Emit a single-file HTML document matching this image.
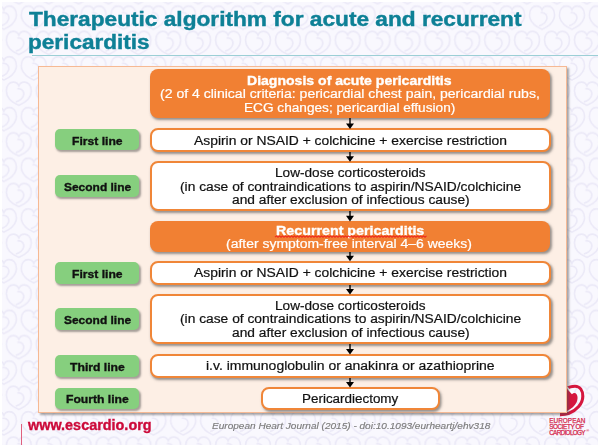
<!DOCTYPE html>
<html><head><meta charset="utf-8"><style>
html,body{margin:0;padding:0;}
body{width:600px;height:447px;overflow:hidden;position:relative;background:#fff;font-family:"Liberation Sans",sans-serif;}
.t{position:absolute;white-space:pre;transform-origin:0 0;}
.ob{position:absolute;background:#f18033;box-shadow:1.5px 2px 2.5px rgba(50,50,50,0.5);}
.wb{position:absolute;box-sizing:border-box;background:#fff;border:2px solid #f08638;box-shadow:1.5px 2px 2.5px rgba(50,50,50,0.5);}
.gb{position:absolute;background:#86cf7e;box-shadow:1.5px 2px 2px rgba(60,60,60,0.45);}
.ar{position:absolute;overflow:visible;}
#panel{position:absolute;left:38px;top:66px;width:529px;height:347px;box-sizing:border-box;background:#fdefe5;border:1px solid #f6b994;box-shadow:1.5px 1.5px 2px rgba(80,80,80,0.5);}
#uline{position:absolute;left:32px;top:55px;width:566px;height:1px;background:#9ccfd6;}
#vline{position:absolute;left:21px;top:424px;width:1px;height:21px;background:#e0607e;}
#esc{position:absolute;left:586.3px;top:428.6px;font-size:4px;line-height:4px;color:#d5284c;font-weight:bold;}
</style></head><body>
<svg width="600" height="447" style="position:absolute;left:0;top:0">
<defs><pattern id="hp" x="3.85" y="69.05" width="29.9" height="50.7" patternUnits="userSpaceOnUse">
<g fill="none" stroke="#ebe9f7" stroke-width="1.6" transform="translate(0 0)"><path transform="translate(14.95 25.35)" d="M0 11 C-8 7.5 -12.5 2.5 -12.5 -3.5 C-12.5 -9.5 -9 -12.3 -5.5 -12.3 C-3 -12.3 -1 -11 0 -8.5 C1 -11 3 -12.3 5.5 -12.3 C9 -12.3 12.5 -9.5 12.5 -3.5 C12.5 2.5 8 7.5 0 11 Z M-1.5 -5.5 C3 -6.5 6 -2.5 4.5 1.5 C3.5 4.5 0.5 6.5 -3 7.5"/><path transform="translate(0 0)" d="M0 11 C-8 7.5 -12.5 2.5 -12.5 -3.5 C-12.5 -9.5 -9 -12.3 -5.5 -12.3 C-3 -12.3 -1 -11 0 -8.5 C1 -11 3 -12.3 5.5 -12.3 C9 -12.3 12.5 -9.5 12.5 -3.5 C12.5 2.5 8 7.5 0 11 Z M-1.5 -5.5 C3 -6.5 6 -2.5 4.5 1.5 C3.5 4.5 0.5 6.5 -3 7.5"/><path transform="translate(29.9 0)" d="M0 11 C-8 7.5 -12.5 2.5 -12.5 -3.5 C-12.5 -9.5 -9 -12.3 -5.5 -12.3 C-3 -12.3 -1 -11 0 -8.5 C1 -11 3 -12.3 5.5 -12.3 C9 -12.3 12.5 -9.5 12.5 -3.5 C12.5 2.5 8 7.5 0 11 Z M-1.5 -5.5 C3 -6.5 6 -2.5 4.5 1.5 C3.5 4.5 0.5 6.5 -3 7.5"/><path transform="translate(0 50.7)" d="M0 11 C-8 7.5 -12.5 2.5 -12.5 -3.5 C-12.5 -9.5 -9 -12.3 -5.5 -12.3 C-3 -12.3 -1 -11 0 -8.5 C1 -11 3 -12.3 5.5 -12.3 C9 -12.3 12.5 -9.5 12.5 -3.5 C12.5 2.5 8 7.5 0 11 Z M-1.5 -5.5 C3 -6.5 6 -2.5 4.5 1.5 C3.5 4.5 0.5 6.5 -3 7.5"/><path transform="translate(29.9 50.7)" d="M0 11 C-8 7.5 -12.5 2.5 -12.5 -3.5 C-12.5 -9.5 -9 -12.3 -5.5 -12.3 C-3 -12.3 -1 -11 0 -8.5 C1 -11 3 -12.3 5.5 -12.3 C9 -12.3 12.5 -9.5 12.5 -3.5 C12.5 2.5 8 7.5 0 11 Z M-1.5 -5.5 C3 -6.5 6 -2.5 4.5 1.5 C3.5 4.5 0.5 6.5 -3 7.5"/></g>
</pattern><filter id="bl" x="0" y="0" width="1" height="1"><feGaussianBlur stdDeviation="0.6"/></filter></defs>
<rect x="2" y="2" width="596" height="443" fill="#f9f8fe"/>
<rect x="2" y="2" width="596" height="443" fill="url(#hp)" filter="url(#bl)"/>
</svg>
<div id="uline"></div>
<svg width="600" height="447" style="position:absolute;left:0;top:0">
<path d="M566.8 388.6 C569.5 386.4 572.2 386.2 575 386.2 C580 386.2 582.8 390.5 582.8 396.3 C582.8 404 576.5 410.3 569 413.3 C566.5 414.2 563.5 414.6 560 414.6" fill="none" stroke="#d5163e" stroke-width="3.1"/>
<path d="M566.5 386.8 L573 393.8" stroke="#fff" stroke-width="1.4"/>
<path d="M566 389.2 L567.4 389.2 L571.9 394.2 C573.5 392.7 575.4 392.6 576.6 394.2 C578 396.2 577.8 399.6 576.6 402.3 C575 405.8 571.5 408.8 566.6 411.3 L566 411.3 Z" fill="#d5163e"/>
</svg>
<div id="panel"></div>
<div class="ob" style="left:150px;top:69px;width:400.30px;height:49.00px;border-radius:8px"></div><div class="wb" style="left:150px;top:128px;width:401.00px;height:24.00px;border-radius:8px"></div><div class="wb" style="left:150px;top:161px;width:401.00px;height:50.00px;border-radius:8px"></div><div class="ob" style="left:150px;top:221px;width:400.30px;height:31.40px;border-radius:8px"></div><div class="wb" style="left:150px;top:261px;width:401.00px;height:24.00px;border-radius:8px"></div><div class="wb" style="left:150px;top:294px;width:401.00px;height:50.00px;border-radius:8px"></div><div class="wb" style="left:150px;top:354px;width:401.00px;height:24.00px;border-radius:8px"></div><div class="wb" style="left:261px;top:387px;width:179.00px;height:23.00px;border-radius:8px"></div>
<div class="gb" style="left:55px;top:129px;width:84.40px;height:21.40px;border-radius:5px"></div><div class="gb" style="left:55px;top:175px;width:84.40px;height:22.30px;border-radius:5px"></div><div class="gb" style="left:55px;top:262px;width:84.40px;height:21.70px;border-radius:5px"></div><div class="gb" style="left:55px;top:308px;width:84.40px;height:22.00px;border-radius:5px"></div><div class="gb" style="left:55px;top:355px;width:84.40px;height:22.00px;border-radius:5px"></div><div class="gb" style="left:55px;top:387.6px;width:84.40px;height:21.70px;border-radius:5px"></div>
<svg class="ar" style="left:345.4px;top:118px" width="10" height="11.80" viewBox="0 0 10 11.80"><line x1="5" y1="0" x2="5" y2="6.80" stroke="#000" stroke-width="1.4"/><path d="M1 5.40 L9 5.40 L5 11.00 Z" fill="#000"/></svg><svg class="ar" style="left:345.4px;top:152px" width="10" height="10.60" viewBox="0 0 10 10.60"><line x1="5" y1="0" x2="5" y2="5.60" stroke="#000" stroke-width="1.4"/><path d="M1 4.20 L9 4.20 L5 9.80 Z" fill="#000"/></svg><svg class="ar" style="left:345.4px;top:211px" width="10" height="11.20" viewBox="0 0 10 11.20"><line x1="5" y1="0" x2="5" y2="6.20" stroke="#000" stroke-width="1.4"/><path d="M1 4.80 L9 4.80 L5 10.40 Z" fill="#000"/></svg><svg class="ar" style="left:345.4px;top:252.4px" width="10" height="10.10" viewBox="0 0 10 10.10"><line x1="5" y1="0" x2="5" y2="5.10" stroke="#000" stroke-width="1.4"/><path d="M1 3.70 L9 3.70 L5 9.30 Z" fill="#000"/></svg><svg class="ar" style="left:345.4px;top:285px" width="10" height="10.40" viewBox="0 0 10 10.40"><line x1="5" y1="0" x2="5" y2="5.40" stroke="#000" stroke-width="1.4"/><path d="M1 4.00 L9 4.00 L5 9.60 Z" fill="#000"/></svg><svg class="ar" style="left:345.4px;top:344px" width="10" height="11.40" viewBox="0 0 10 11.40"><line x1="5" y1="0" x2="5" y2="6.40" stroke="#000" stroke-width="1.4"/><path d="M1 5.00 L9 5.00 L5 10.60 Z" fill="#000"/></svg><svg class="ar" style="left:345.4px;top:378px" width="10" height="10.40" viewBox="0 0 10 10.40"><line x1="5" y1="0" x2="5" y2="5.40" stroke="#000" stroke-width="1.4"/><path d="M1 4.00 L9 4.00 L5 9.60 Z" fill="#000"/></svg>
<div class="t" style="left:29.00px;top:10.31px;font-size:19.6px;line-height:19.6px;color:#0e8096;transform:scaleX(1.1568);font-weight:bold;-webkit-text-stroke:0.4px #0e8096;">Therapeutic algorithm for acute and recurrent</div>
<div class="t" style="left:27.85px;top:32.61px;font-size:19.6px;line-height:19.6px;color:#0e8096;transform:scaleX(1.1515);font-weight:bold;-webkit-text-stroke:0.4px #0e8096;">pericarditis</div>
<div class="t" style="left:247.00px;top:75.10px;font-size:12.4px;line-height:12.4px;color:#fff;transform:scaleX(1.1340);font-weight:bold;-webkit-text-stroke:0.35px #fff;">Diagnosis of acute pericarditis</div>
<div class="t" style="left:160.00px;top:88.42px;font-size:12.5px;line-height:12.5px;color:#fff;transform:scaleX(1.1226);-webkit-text-stroke:0.2px #fff;">(2 of 4 clinical criteria: pericardial chest pain, pericardial rubs,</div>
<div class="t" style="left:243.91px;top:102.12px;font-size:12.5px;line-height:12.5px;color:#fff;transform:scaleX(1.0911);-webkit-text-stroke:0.2px #fff;">ECG changes; pericardial effusion)</div>
<div class="t" style="left:194.00px;top:134.82px;font-size:12.5px;line-height:12.5px;color:#111;transform:scaleX(1.1095);-webkit-text-stroke:0.2px #111;">Aspirin or NSAID + colchicine + exercise restriction</div>
<div class="t" style="left:274.71px;top:166.92px;font-size:12.5px;line-height:12.5px;color:#111;transform:scaleX(1.0890);-webkit-text-stroke:0.2px #111;">Low-dose corticosteroids</div>
<div class="t" style="left:179.80px;top:180.72px;font-size:12.5px;line-height:12.5px;color:#111;transform:scaleX(1.1034);-webkit-text-stroke:0.2px #111;">(in case of contraindications to aspirin/NSAID/colchicine</div>
<div class="t" style="left:231.50px;top:194.32px;font-size:12.5px;line-height:12.5px;color:#111;transform:scaleX(1.0999);-webkit-text-stroke:0.2px #111;">and after exclusion of infectious cause)</div>
<div class="t" style="left:275.80px;top:224.80px;font-size:12.4px;line-height:12.4px;color:#fff;transform:scaleX(1.1515);font-weight:bold;-webkit-text-stroke:0.35px #fff;">Recurrent pericarditis</div>
<div class="t" style="left:226.00px;top:238.32px;font-size:12.5px;line-height:12.5px;color:#fff;transform:scaleX(1.1166);-webkit-text-stroke:0.2px #fff;">(after symptom-free interval 4–6 weeks)</div>
<div class="t" style="left:194.00px;top:267.12px;font-size:12.5px;line-height:12.5px;color:#111;transform:scaleX(1.1095);-webkit-text-stroke:0.2px #111;">Aspirin or NSAID + colchicine + exercise restriction</div>
<div class="t" style="left:274.71px;top:299.52px;font-size:12.5px;line-height:12.5px;color:#111;transform:scaleX(1.0890);-webkit-text-stroke:0.2px #111;">Low-dose corticosteroids</div>
<div class="t" style="left:179.80px;top:313.32px;font-size:12.5px;line-height:12.5px;color:#111;transform:scaleX(1.1034);-webkit-text-stroke:0.2px #111;">(in case of contraindications to aspirin/NSAID/colchicine</div>
<div class="t" style="left:231.50px;top:326.92px;font-size:12.5px;line-height:12.5px;color:#111;transform:scaleX(1.0999);-webkit-text-stroke:0.2px #111;">and after exclusion of infectious cause)</div>
<div class="t" style="left:206.00px;top:360.32px;font-size:12.5px;line-height:12.5px;color:#111;transform:scaleX(1.1177);-webkit-text-stroke:0.2px #111;">i.v. immunoglobulin or anakinra or azathioprine</div>
<div class="t" style="left:301.73px;top:392.92px;font-size:12.5px;line-height:12.5px;color:#111;transform:scaleX(1.0743);-webkit-text-stroke:0.2px #111;">Pericardiectomy</div>
<div class="t" style="left:71.60px;top:136.03px;font-size:11.3px;line-height:11.3px;color:#111;transform:scaleX(1.0749);font-weight:bold;-webkit-text-stroke:0.35px #111;">First line</div>
<div class="t" style="left:63.50px;top:182.23px;font-size:11.3px;line-height:11.3px;color:#111;transform:scaleX(1.0583);font-weight:bold;-webkit-text-stroke:0.35px #111;">Second line</div>
<div class="t" style="left:71.60px;top:268.63px;font-size:11.3px;line-height:11.3px;color:#111;transform:scaleX(1.0749);font-weight:bold;-webkit-text-stroke:0.35px #111;">First line</div>
<div class="t" style="left:63.50px;top:314.93px;font-size:11.3px;line-height:11.3px;color:#111;transform:scaleX(1.0583);font-weight:bold;-webkit-text-stroke:0.35px #111;">Second line</div>
<div class="t" style="left:69.70px;top:361.63px;font-size:11.3px;line-height:11.3px;color:#111;transform:scaleX(1.0781);font-weight:bold;-webkit-text-stroke:0.35px #111;">Third line</div>
<div class="t" style="left:65.80px;top:394.33px;font-size:11.3px;line-height:11.3px;color:#111;transform:scaleX(1.0762);font-weight:bold;-webkit-text-stroke:0.35px #111;">Fourth line</div>
<div class="t" style="left:28.20px;top:418.01px;font-size:14.4px;line-height:14.4px;color:#cc0a3a;transform:scaleX(1.0014);font-weight:bold;-webkit-text-stroke:0.35px #cc0a3a;">www.escardio.org</div>
<div class="t" style="left:549.20px;top:418.28px;font-size:6.4px;line-height:6.4px;color:#d5284c;letter-spacing:0.050px;-webkit-text-stroke:0.25px #d5284c;">EUROPEAN</div>
<div class="t" style="left:549.20px;top:424.08px;font-size:6.4px;line-height:6.4px;color:#d5284c;letter-spacing:-0.422px;-webkit-text-stroke:0.25px #d5284c;">SOCIETY OF</div>
<div class="t" style="left:549.20px;top:429.88px;font-size:6.4px;line-height:6.4px;color:#d5284c;letter-spacing:-0.694px;-webkit-text-stroke:0.25px #d5284c;">CARDIOLOGY</div>
<div class="t" style="left:211.70px;top:421.88px;font-size:9px;line-height:9px;color:#7c7c7c;transform:scaleX(1.1170);font-style:italic;-webkit-text-stroke:0.15px #7c7c7c;">European Heart Journal (2015) - doi:10.1093/eurheartj/ehv318</div>
<svg style="position:absolute;left:0;top:0" width="600" height="447"><path d="M275 237.2 L276.5 235.9 L278.0 237.2 L279.5 235.9 L281.0 237.2 L282.5 235.9 L284.0 237.2 L285.5 235.9 L287.0 237.2 L288.5 235.9 L290.0 237.2 L291.5 235.9 L293.0 237.2 L294.5 235.9 L296.0 237.2 L297.5 235.9 L299.0 237.2 L300.5 235.9 L302.0 237.2 L303.5 235.9 L305.0 237.2 L306.5 235.9 L308.0 237.2 L309.5 235.9 L311.0 237.2 L312.5 235.9 L314.0 237.2 L315.5 235.9 L317.0 237.2 L318.5 235.9 L320.0 237.2 L321.5 235.9 L323.0 237.2 L324.5 235.9 L326.0 237.2 L327.5 235.9 L329.0 237.2 L330.5 235.9 L332.0 237.2 L333.5 235.9 L335.0 237.2 L336.5 235.9 L338.0 237.2 L339.5 235.9 L341.0 237.2 L342.5 235.9 L344.0 237.2 L345.5 235.9 L347.0 237.2 L348.5 235.9 L350.0 237.2 L351.5 235.9 L353.0 237.2 L354.5 235.9 L356.0 237.2 L357.5 235.9 L359.0 237.2 L360.5 235.9 L362.0 237.2 L363.5 235.9 L365.0 237.2 L366.5 235.9 L368.0 237.2 L369.5 235.9 L371.0 237.2 L372.5 235.9 L374.0 237.2 L375.5 235.9 L377.0 237.2 L378.5 235.9 L380.0 237.2 L381.5 235.9 L383.0 237.2 L384.5 235.9 L386.0 237.2 L387.5 235.9 L389.0 237.2 L390.5 235.9 L392.0 237.2 L393.5 235.9 L395.0 237.2 L396.5 235.9 L398.0 237.2 L399.5 235.9 L401.0 237.2 L402.5 235.9 L404.0 237.2 L405.5 235.9 L407.0 237.2 L408.5 235.9 L410.0 237.2 L411.5 235.9 L413.0 237.2 L414.5 235.9 L416.0 237.2 L417.5 235.9 L419.0 237.2 L420.5 235.9 L422.0 237.2 L423.5 235.9 L425.0 237.2 L426.5 235.9" fill="none" stroke="#f0281c" stroke-width="1.1"/></svg>
<div id="vline"></div>
<div id="esc">®</div>
</body></html>
